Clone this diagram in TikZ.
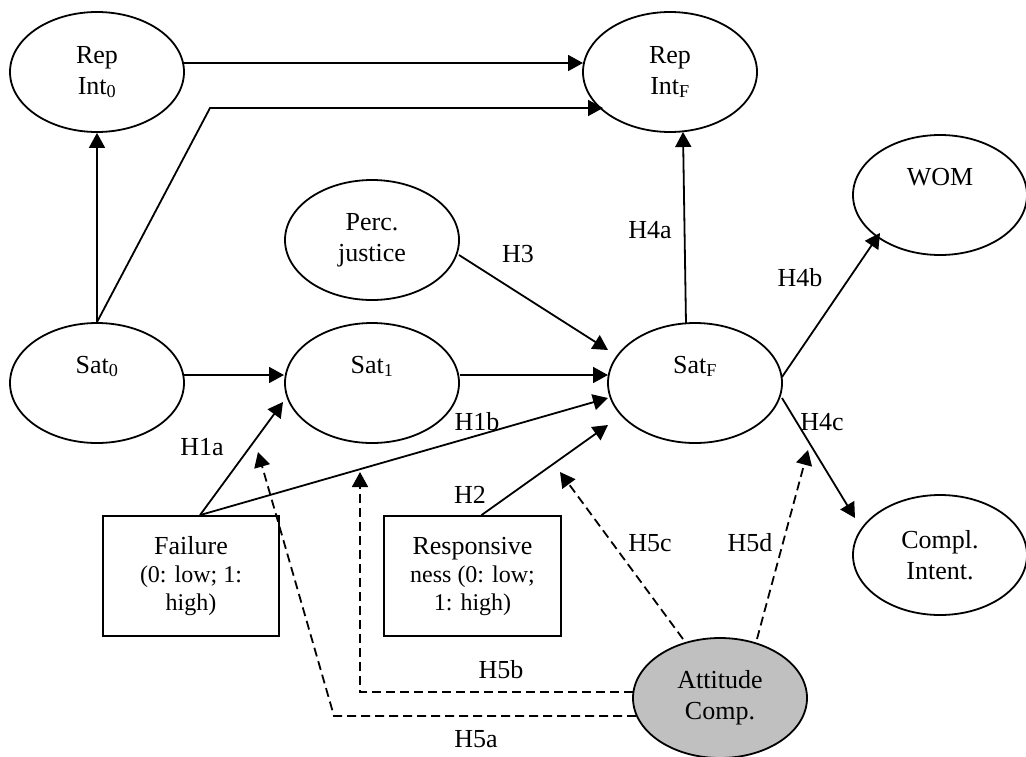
\documentclass[tikz,border=0pt]{standalone}
\usepackage{fontspec}
\setmainfont{Liberation Serif}
\usetikzlibrary{arrows.meta,calc,shapes.geometric}
\newcommand\smtxt{\fontsize{24}{28}\selectfont}
\begin{document}
\begin{tikzpicture}[x=1pt,y=-1pt,
  every node/.style={font=\fontsize{26}{31}\selectfont},
  oval/.style={draw, ellipse, line width=1.8pt, minimum width=174pt, minimum height=120pt, inner sep=0pt, align=center},
  box/.style={draw, rectangle, line width=1.8pt, minimum width=176pt, minimum height=120pt, inner sep=0pt, align=center, font=\fontsize{26}{28}\selectfont},
  arr/.style={line width=1.8pt, -{Triangle[length=15pt,width=16pt]}},
  dsh/.style={arr, dash pattern=on 9pt off 5pt},
  lab/.style={inner sep=0pt}]
\useasboundingbox (0,0) rectangle (1026,756);

% nodes
\node[oval] (rep0) at (97,72) {Rep\\Int\textsubscript{0}};
\node[oval] (repF) at (670,72) {Rep\\Int\textsubscript{F}};
\node[oval] (perc) at (372,240) {Perc.\\justice};
\node[oval] (wom) at (940,195) {\raisebox{10pt}[0pt][0pt]{WOM}};
\node[oval] (sat0) at (97,383) {\raisebox{10pt}[0pt][0pt]{Sat\textsubscript{0}}};
\node[oval] (sat1) at (372,383) {\raisebox{10pt}[0pt][0pt]{Sat\textsubscript{1}}};
\node[oval] (satF) at (695,383) {\raisebox{10pt}[0pt][0pt]{Sat\textsubscript{F}}};
\node[oval] (compl) at (940,555) {Compl.\\Intent.};
\node[oval, fill={rgb,255:red,192;green,192;blue,192}] (att) at (720,698) {Attitude\\Comp.};
\node[box] (fail) at (191,576) {Failure\\{\smtxt (0: low; 1:}\\{\smtxt high)}};
\node[box, minimum width=177pt] (resp) at (472.5,576) {Responsive\\{\smtxt ness (0: low;}\\{\smtxt 1: high)}};

% solid connectors
\draw[arr] ($(rep0)+(87,-9)$) -- ($(repF)+(-87,-9)$);
\draw[arr] (sat0.north) -- (rep0.south);
\coordinate (k1) at (210,108);
\draw[arr] (sat0.north) -- (k1) -- ($(repF)+(-67,36)$);
\draw[arr] ($(sat0)+(87,-8)$) -- ($(sat1)+(-88,-8)$);
\draw[arr] ($(sat1)+(88,-8)$) -- ($(satF)+(-87,-8)$);
\draw[arr] ($(perc)+(87,15)$) -- ($(satF)+(-87,-33)$);
\draw[arr] ($(satF)+(-9,-59)$) -- ($(repF)+(13,60)$);
\draw[arr] ($(satF)+(87,-6)$) -- ($(wom)+(-60,38)$);
\draw[arr] ($(satF)+(87,15)$) -- ($(compl)+(-85,-37)$);
\draw[arr] ($(fail.north)+(9,0)$) -- ($(sat1)+(-89,19)$);
\draw[arr] ($(fail.north)+(9,0)$) -- ($(satF)+(-87,15)$);
\draw[arr] ($(resp.north)+(9,0)$) -- ($(satF)+(-87,42)$);

% dashed connectors
\coordinate (a1) at (334,716);
\draw[dsh] ($(att)+(-84,18)$) -- (a1) -- ($(sat1)+(-114,69)$);
\coordinate (b1) at (360,692);
\coordinate (b2) at (360,472);
\draw[dsh] ($(att)+(-87,-6)$) -- (b1) -- (b2);
\draw[dsh] ($(att)+(-37,-59)$) -- ($(satF)+(-135,89)$);
\draw[dsh] ($(att)+(37,-59)$) -- ($(satF)+(113,67)$);

% labels
\node[lab] (lH3) at (518,254) {H3};
\node[lab] (lH4a) at (650,230) {H4a};
\node[lab] (lH4b) at (800,278) {H4b};
\node[lab] (lH1a) at (202,447) {H1a};
\node[lab] (lH1b) at (477,422) {H1b};
\node[lab] (lH2) at (470,495) {H2};
\node[lab] (lH4c) at (822,422) {H4c};
\node[lab] (lH5c) at (650,543) {H5c};
\node[lab] (lH5d) at (750,543) {H5d};
\node[lab] (lH5b) at (501,670) {H5b};
\node[lab] (lH5a) at (476,739) {H5a};
\end{tikzpicture}
\end{document}
